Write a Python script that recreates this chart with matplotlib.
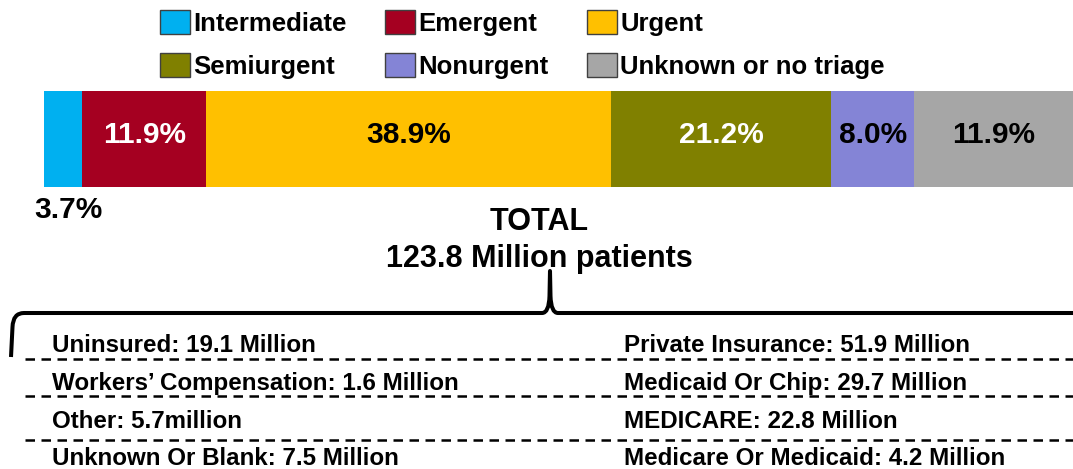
import matplotlib.pyplot as plt
from matplotlib.path import Path
from matplotlib.patches import PathPatch

plt.rcParams['font.family'] = ['Liberation Sans', 'DejaVu Sans']
plt.rcParams['font.weight'] = 'bold'

# triage share of ED visits (%)
categories = ['Intermediate', 'Emergent', 'Urgent', 'Semiurgent', 'Nonurgent', 'Unknown or no triage']
shares = [3.7, 11.9, 38.9, 21.2, 8.0, 11.9]
share_labels = ['3.7%', '11.9%', '38.9%', '21.2%', '8.0%', '11.9%']
COLORS = ['#00B0F0', '#A50021', '#FFC000', '#808000', '#8484D6', '#A6A6A6']
TEXTCOLORS = ['black', 'white', 'black', 'white', 'black', 'black']

total_title = ['TOTAL', '123.8 Million patients']

# payer breakdown, two columns
payer_left = ['Uninsured: 19.1 Million', 'Workers\u2019 Compensation: 1.6 Million',
              'Other: 5.7million', 'Unknown Or Blank: 7.5 Million']
payer_right = ['Private Insurance: 51.9 Million', 'Medicaid Or Chip: 29.7 Million',
               'MEDICARE: 22.8 Million', 'Medicare Or Medicaid: 4.2 Million']

W, H = 1073, 469
fig = plt.figure(figsize=(W / 100, H / 100), dpi=100)

######## stacked bar ########
ax = fig.add_axes([44 / W, 1 - 187 / H, (W - 44) / W, 96 / H])
xmax = (W - 44) / 10.4
left = 0
for i, (cat, val) in enumerate(zip(categories, shares)):
    # last segment is the remainder of the total (cropped at the right edge)
    width = val if i < len(shares) - 1 else 100 - left
    ax.barh(0, width, left=left, height=1, color=COLORS[i], label=cat, linewidth=0)
    vis_right = min(left + width, xmax)
    xc = (left + vis_right) / 2
    if i == 0:
        ax.text(xc + 0.45, -0.82, share_labels[i], ha='center', va='baseline',
                fontsize=21.5, fontweight='bold', color='black', clip_on=False)
    else:
        ax.text(xc, 0.04, share_labels[i], ha='center', va='center',
                fontsize=21.5, fontweight='bold', color=TEXTCOLORS[i])
    left += width
ax.set_xlim(0, xmax)
ax.set_ylim(-0.5, 0.5)
ax.axis('off')

handles, labels = ax.get_legend_handles_labels()
order = [0, 3, 1, 4, 2, 5]
leg = fig.legend([handles[k] for k in order], [labels[k] for k in order], ncol=3,
                 loc='upper left', bbox_to_anchor=(160 / W, 1 - 10 / H),
                 bbox_transform=fig.transFigure, frameon=False,
                 borderpad=0, borderaxespad=0, handlelength=1.17, handleheight=1.05,
                 handletextpad=0.12, columnspacing=1.5, labelspacing=0.68,
                 prop={'weight': 'bold', 'size': 18.5})
for h in leg.legend_handles:
    h.set_edgecolor('#404040')
    h.set_linewidth(1)

######## overlay: title, brace, payer table ########
ov = fig.add_axes([0, 0, 1, 1])
ov.set_xlim(0, W)
ov.set_ylim(H, 0)
ov.axis('off')

ov.text(539, 230, total_title[0], ha='center', va='baseline', fontsize=22, fontweight='bold')
ov.text(539, 267, total_title[1], ha='center', va='baseline', fontsize=22, fontweight='bold')

verts = [(W + 5, 313), (558, 313), (551, 313), (550.5, 296), (550, 271), (549.5, 296),
         (549, 313), (542, 313), (24, 313), (13, 313), (12.5, 327), (11, 357)]
codes = [Path.MOVETO, Path.LINETO, Path.CURVE3, Path.CURVE3, Path.LINETO, Path.LINETO,
         Path.CURVE3, Path.CURVE3, Path.LINETO, Path.CURVE3, Path.CURVE3, Path.LINETO]
ov.add_patch(PathPatch(Path(verts, codes), fill=False, lw=2.9, edgecolor='black',
                       joinstyle='round', capstyle='butt'))

row_base = [352, 390, 428, 465]
dash_y = [359, 396, 440]
for y in dash_y:
    ov.plot([25, W + 5], [y, y], color='black', lw=1.8, linestyle=(0, (3.8, 2.6)))
for j in range(len(payer_left)):
    ov.text(52, row_base[j], payer_left[j], ha='left', va='baseline', fontsize=17.4, fontweight='bold')
    ov.text(624, row_base[j], payer_right[j], ha='left', va='baseline', fontsize=17.4, fontweight='bold')

plt.savefig('out.png', dpi=100)
plt.close()
